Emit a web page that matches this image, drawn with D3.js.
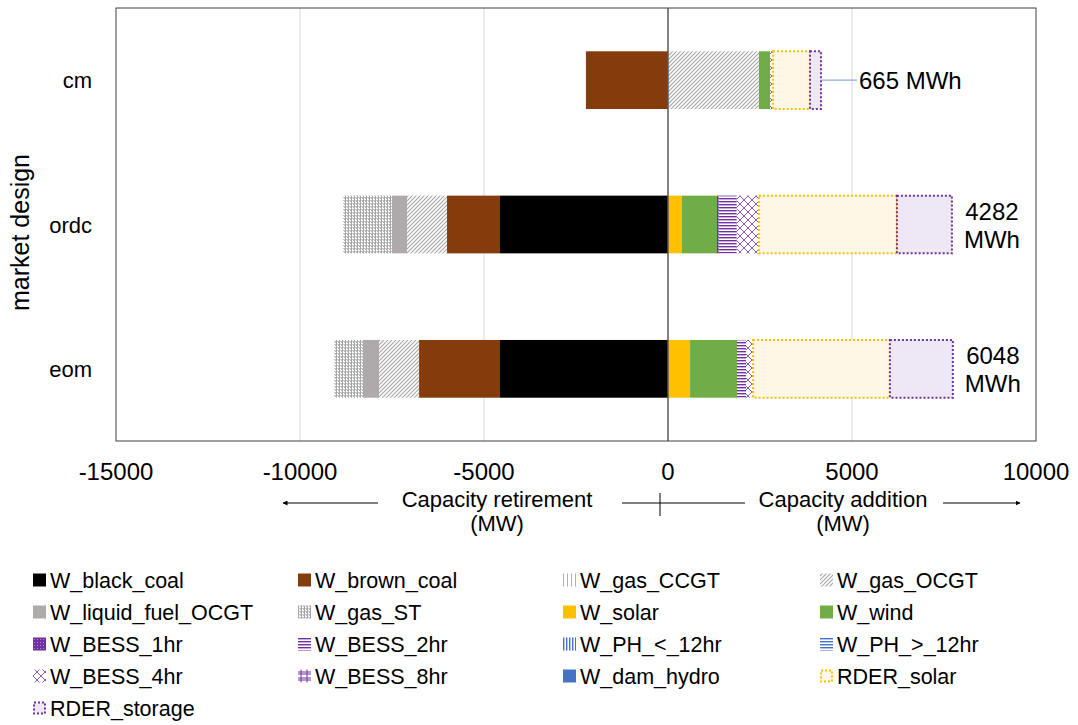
<!DOCTYPE html>
<html>
<head>
<meta charset="utf-8">
<script src="https://cdn.jsdelivr.net/npm/d3@7"></script>
<style>
  body { margin: 0; background: #fff; }
  text { font-family: "Liberation Sans", Arial, sans-serif; fill: #000; }
</style>
</head>
<body>
<div id="chart"></div>
<script>
// chart size
var w = 1078;
var h = 725;
var plot = {left: 116, right: 1036, top: 8, bottom: 441};

// categories and series (values in MW, order: cm, ordc, eom)
var categories = ["cm", "ordc", "eom"];
var seriesNames = ["W_black_coal", "W_brown_coal", "W_gas_CCGT", "W_gas_OCGT",
  "W_liquid_fuel_OCGT", "W_gas_ST", "W_solar", "W_wind", "W_BESS_1hr", "W_BESS_2hr",
  "W_PH_<_12hr", "W_PH_>_12hr", "W_BESS_4hr", "W_BESS_8hr", "W_dam_hydro",
  "RDER_solar", "RDER_storage"];
var black_coal = [0, -4565, -4565];
var brown_coal = [-2230, -1440, -2200];
var gas_CCGT = [0, 0, 0];
var gas_OCGT = [2473, -1087, -1087];
var liquid_fuel_OCGT = [0, -408, -435];
var gas_ST = [0, -1332, -790];
var solar = [0, 380, 600];
var wind = [300, 950, 1275];
var BESS_1hr = [0, 50, 0];
var BESS_2hr = [0, 490, 245];
var PH_lt12 = [0, 0, 0];
var PH_gt12 = [0, 0, 0];
var BESS_4hr = [80, 600, 190];
var BESS_8hr = [0, 0, 0];
var dam_hydro = [0, 0, 0];
var RDER_solar = [1005, 3750, 3720];
var RDER_storage = [300, 1495, 1710];
var storageLabels = ["665 MWh", "4282 MWh", "6048 MWh"];
var xTicks = [-15000, -10000, -5000, 0, 5000, 10000];

var seriesValues = [black_coal, brown_coal, gas_CCGT, gas_OCGT, liquid_fuel_OCGT,
  gas_ST, solar, wind, BESS_1hr, BESS_2hr, PH_lt12, PH_gt12, BESS_4hr, BESS_8hr,
  dam_hydro, RDER_solar, RDER_storage];

var svg = d3.select("#chart").append("svg")
  .attr("width", w).attr("height", h);

// patterns
var defs = svg.append("defs");
function pat(id, size, bg, draw) {
  var p = defs.append("pattern").attr("id", id)
    .attr("width", size).attr("height", size)
    .attr("patternUnits", "userSpaceOnUse");
  p.append("rect").attr("width", size).attr("height", size).attr("fill", bg);
  draw(p);
}
pat("p_ccgt", 4, "#fff", function(p) {
  p.append("rect").attr("x", 0).attr("width", 1).attr("height", 4).attr("fill", "#b0b0b0");
});
pat("p_ocgt", 4, "#fff", function(p) {
  p.append("path").attr("d", "M-1,1 l2,-2 M0,4 l4,-4 M3,5 l2,-2")
    .attr("stroke", "#a6a6a6").attr("stroke-width", 1.1);
});
pat("p_st", 3, "#fff", function(p) {
  p.append("rect").attr("x", 0).attr("width", 1).attr("height", 3).attr("fill", "#a6a6a6");
  p.append("rect").attr("x", 2).attr("y", 0).attr("width", 1).attr("height", 1).attr("fill", "#b4b4b4");
  p.append("rect").attr("x", 1).attr("y", 2).attr("width", 2).attr("height", 1).attr("fill", "#c4c4c4");
});
pat("p_b1", 3, "#7030a0", function(p) {
  p.append("rect").attr("x", 1).attr("y", 1).attr("width", 1).attr("height", 1).attr("fill", "#b48ad0");
});
pat("p_b2", 3, "#fff", function(p) {
  p.append("rect").attr("y", 0).attr("width", 3).attr("height", 1.4).attr("fill", "#7030a0");
});
pat("p_b4", 8, "#fff", function(p) {
  p.append("path").attr("d", "M0,0 L8,8 M8,0 L0,8")
    .attr("stroke", "#8a5cb8").attr("stroke-width", 1);
});
pat("p_b8", 6, "#fff", function(p) {
  p.append("path").attr("d", "M0,2 H6 M0,4 H6 M3,0 V6")
    .attr("stroke", "#7030a0").attr("stroke-width", 1);
});
pat("p_ph1", 3, "#fff", function(p) {
  p.append("rect").attr("x", 0).attr("width", 1.4).attr("height", 3).attr("fill", "#4472c4");
});
pat("p_ph2", 3, "#fff", function(p) {
  p.append("rect").attr("y", 0).attr("width", 3).attr("height", 1.4).attr("fill", "#4472c4");
});

// series styles
var fills = ["#000000", "#843c0c", "url(#p_ccgt)", "url(#p_ocgt)", "#aeaaaa",
  "url(#p_st)", "#ffc000", "#70ad47", "url(#p_b1)", "url(#p_b2)", "url(#p_ph1)",
  "url(#p_ph2)", "url(#p_b4)", "url(#p_b8)", "#4472c4", "#fff7e6", "#ede7f6"];
var strokes = [null, null, null, null, null, null, null, null, null, null, null,
  null, null, null, null, "#ffc000", "#7030a0"];

// scales
var xScale = d3.scaleLinear().domain([-15000, 10000]).range([plot.left, plot.right]);
var yScale = d3.scaleBand().domain(categories)
  .range([plot.top, plot.bottom]).paddingInner(0.6).paddingOuter(0.3);

// gridlines
svg.selectAll("line.grid")
  .data(xTicks.filter(function(d) { return d !== 0 && d !== -15000 && d !== 10000; }))
  .enter().append("line")
  .attr("class", "grid")
  .attr("x1", function(d) { return xScale(d); })
  .attr("x2", function(d) { return xScale(d); })
  .attr("y1", plot.top).attr("y2", plot.bottom)
  .attr("stroke", "#d9d9d9").attr("stroke-width", 1);

// stacked segments
var segs = [];
categories.forEach(function(c, ci) {
  var pos = 0, neg = 0;
  seriesValues.forEach(function(vals, si) {
    var v = vals[ci];
    if (v === 0) return;
    if (v > 0) { segs.push({c: c, s: si, x0: pos, x1: pos + v}); pos += v; }
    else { segs.push({c: c, s: si, x0: neg + v, x1: neg}); neg += v; }
  });
});

svg.selectAll("rect.seg")
  .data(segs)
  .enter().append("rect")
  .attr("class", "seg")
  .attr("x", function(d) { return xScale(d.x0); })
  .attr("y", function(d) { return yScale(d.c); })
  .attr("width", function(d) { return xScale(d.x1) - xScale(d.x0); })
  .attr("height", yScale.bandwidth())
  .attr("fill", function(d) { return fills[d.s]; })
  .attr("stroke", function(d) { return strokes[d.s] || "none"; })
  .attr("stroke-width", 2)
  .attr("stroke-dasharray", "2,2");

// zero line + frame
svg.append("line")
  .attr("x1", xScale(0)).attr("x2", xScale(0))
  .attr("y1", plot.top).attr("y2", plot.bottom)
  .attr("stroke", "#595959").attr("stroke-width", 1.5);
svg.append("rect")
  .attr("x", plot.left).attr("y", plot.top)
  .attr("width", plot.right - plot.left).attr("height", plot.bottom - plot.top)
  .attr("fill", "none").attr("stroke", "#404040").attr("stroke-width", 1);

// x tick labels
svg.selectAll("text.xt")
  .data(xTicks).enter().append("text")
  .attr("class", "xt")
  .attr("x", function(d) { return xScale(d); })
  .attr("y", 480)
  .attr("text-anchor", "middle")
  .style("font-size", "24px")
  .text(function(d) { return d; });

// y category labels
svg.selectAll("text.yt")
  .data(categories).enter().append("text")
  .attr("class", "yt")
  .attr("x", 92)
  .attr("y", function(d) { return yScale(d) + yScale.bandwidth() / 2 + 8; })
  .attr("text-anchor", "end")
  .style("font-size", "22px")
  .text(function(d) { return d; });

svg.append("text")
  .attr("transform", "translate(29," + ((plot.top + plot.bottom) / 2 + 8) + ") rotate(-90)")
  .attr("text-anchor", "middle")
  .style("font-size", "25px")
  .text("market design");

// storage labels
categories.forEach(function(c, ci) {
  var end = 0;
  seriesValues.forEach(function(vals) { if (vals[ci] > 0) end += vals[ci]; });
  var cy = yScale(c) + yScale.bandwidth() / 2;
  var parts = storageLabels[ci].split(" ");
  if (ci === 0) {
    svg.append("line")
      .attr("x1", xScale(end)).attr("x2", xScale(end) + 36)
      .attr("y1", cy).attr("y2", cy)
      .attr("stroke", "#8eaadb").attr("stroke-width", 1.3);
    svg.append("text")
      .attr("x", xScale(end) + 38).attr("y", cy + 9)
      .style("font-size", "24px")
      .text(storageLabels[ci]);
  } else {
    var lx = xScale(end) + 40;
    svg.append("text").attr("x", lx).attr("y", cy - 5)
      .attr("text-anchor", "middle").style("font-size", "24px").text(parts[0]);
    svg.append("text").attr("x", lx).attr("y", cy + 23)
      .attr("text-anchor", "middle").style("font-size", "24px").text(parts[1]);
  }
});

// direction annotation below axis
svg.append("defs").append("marker")
  .attr("id", "arrow").attr("viewBox", "0 0 10 10")
  .attr("refX", 9).attr("refY", 5)
  .attr("markerWidth", 5).attr("markerHeight", 5)
  .attr("orient", "auto-start-reverse")
  .append("path").attr("d", "M0,0 L10,5 L0,10 z").attr("fill", "#000");

var ay = 503;
svg.append("line").attr("x1", 378).attr("x2", 283).attr("y1", ay).attr("y2", ay)
  .attr("stroke", "#000").attr("stroke-width", 1).attr("marker-end", "url(#arrow)");
svg.append("line").attr("x1", 622).attr("x2", 745).attr("y1", ay).attr("y2", ay)
  .attr("stroke", "#000").attr("stroke-width", 1);
svg.append("line").attr("x1", 660).attr("x2", 660).attr("y1", 493).attr("y2", 516)
  .attr("stroke", "#000").attr("stroke-width", 1);
svg.append("line").attr("x1", 943).attr("x2", 1020).attr("y1", ay).attr("y2", ay)
  .attr("stroke", "#000").attr("stroke-width", 1).attr("marker-end", "url(#arrow)");

[["Capacity retirement", 497], ["Capacity addition", 843]].forEach(function(t) {
  svg.append("text").attr("x", t[1]).attr("y", 507)
    .attr("text-anchor", "middle").style("font-size", "22px").text(t[0]);
  svg.append("text").attr("x", t[1]).attr("y", 531)
    .attr("text-anchor", "middle").style("font-size", "22px").text("(MW)");
});

// legend
var legCols = [33, 298, 563, 820];
var legend = svg.selectAll("g.leg")
  .data(seriesNames).enter().append("g")
  .attr("class", "leg")
  .attr("transform", function(d, i) {
    return "translate(" + legCols[i % 4] + "," + (580 + Math.floor(i / 4) * 32) + ")";
  });
legend.append("rect")
  .attr("x", function(d, i) { return strokes[i] ? 1 : 0; })
  .attr("y", function(d, i) { return strokes[i] ? -5.5 : -6.5; })
  .attr("width", function(d, i) { return strokes[i] ? 11 : 13; })
  .attr("height", function(d, i) { return strokes[i] ? 11 : 13; })
  .attr("fill", function(d, i) { return fills[i]; })
  .attr("stroke", function(d, i) { return strokes[i] || "none"; })
  .attr("stroke-width", 2)
  .attr("stroke-dasharray", "2,2");
legend.append("text")
  .attr("x", 17).attr("y", 7.5)
  .style("font-size", "21.5px")
  .text(function(d) { return d; });
</script>
</body>
</html>
